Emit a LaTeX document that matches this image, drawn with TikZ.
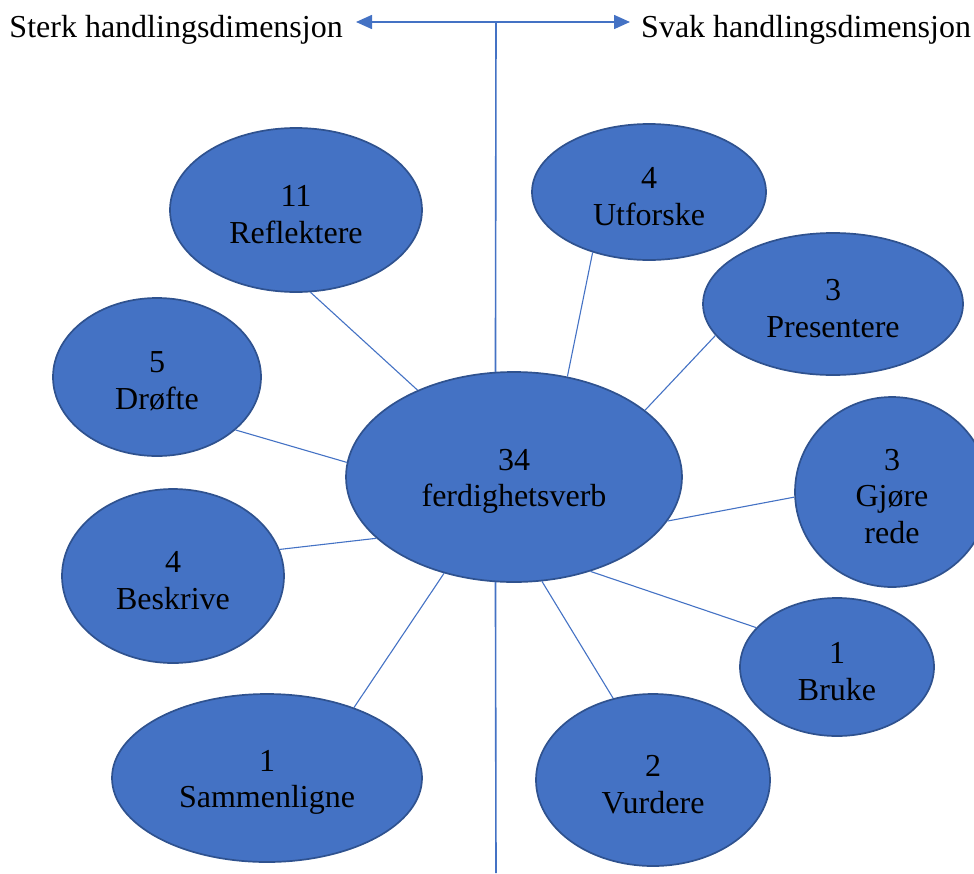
\documentclass[tikz,border=0pt]{standalone}
\usepackage{fontspec}
\setmainfont{Liberation Serif}
\usetikzlibrary{shapes.geometric,arrows.meta}
\definecolor{bubbleFill}{HTML}{4472C4}
\definecolor{bubbleEdge}{HTML}{2F528F}
\definecolor{linkBlue}{HTML}{4472C4}
% a tall invisible strut on the first line lowers the text block a little
\newcommand\bubbletop{\rule{0pt}{30pt}}
\begin{document}
\begin{tikzpicture}[x=1pt,y=-1pt,
  bubble/.style={ellipse, draw=bubbleEdge, fill=bubbleFill, line width=1.7pt,
    inner sep=0pt, align=center, text=black,
    font=\fontsize{32}{36.8}\selectfont},
  link/.style={draw=linkBlue, line width=1.1pt},
  axisline/.style={draw=linkBlue, line width=1.6pt},
  tip/.tip={Triangle[length=16pt,width=14pt]},
  sidelabel/.style={font=\fontsize{32}{36.8}\selectfont, inner sep=0pt}]
\useasboundingbox (0,0) rectangle (974,873);
\clip (0,0) rectangle (974,873);

% central bubble and the verbs around it
\node[bubble, minimum width=336pt, minimum height=210pt] (hub) at (514,477) {\bubbletop 34\\ferdighetsverb};
\node[bubble, minimum width=252pt, minimum height=164pt] (refl) at (296,210) {\bubbletop 11\\Reflektere};
\node[bubble, minimum width=234pt, minimum height=136pt] (utf)  at (649,192) {\bubbletop 4\\Utforske};
\node[bubble, minimum width=260pt, minimum height=142pt] (pres) at (833,304) {\bubbletop 3\\Presentere};
\node[bubble, minimum width=194pt, minimum height=190pt] (gjore) at (892,492) {\bubbletop 3\\Gjøre\\rede};
\node[bubble, minimum width=194pt, minimum height=138pt] (bruke) at (837,667) {\bubbletop 1\\Bruke};
\node[bubble, minimum width=234pt, minimum height=172pt] (vurd) at (653,780) {\bubbletop 2\\Vurdere};
\node[bubble, minimum width=310pt, minimum height=168pt] (samm) at (267,778) {\bubbletop 1\\Sammenligne};
\node[bubble, minimum width=222pt, minimum height=174pt] (besk) at (173,576) {\bubbletop 4\\Beskrive};
\node[bubble, minimum width=208pt, minimum height=158pt] (drof) at (157,377) {\bubbletop 5\\Drøfte};

% spokes
\draw[link] (refl.280)  -- (hub.138);
\draw[link] (utf.227)   -- (hub.62);
\draw[link] (pres.195)  -- (hub.27);
\draw[link] (gjore.183) -- (hub.-16);
\draw[link] (bruke.154) -- (hub.-51);
\draw[link] (vurd.116)  -- (hub.-75);
\draw[link] (samm.39)   -- (hub.234);
\draw[link] (besk.14)   -- (hub.204);
\draw[link] (drof.326)  -- (hub.175);

% action-dimension axis
\coordinate (axtop) at (496,22);
\coordinate (axbot) at (496,873);
\coordinate (arrL) at (356,22);
\coordinate (arrR) at (630,22);
\draw[axisline] (axtop) -- (hub.100);
\draw[axisline] (hub.260) -- (axbot);
\draw[axisline, tip-tip] (arrL) -- (arrR);

\node[sidelabel, anchor=base east] (strong) at (343,37) {Sterk handlingsdimensjon};
\node[sidelabel, anchor=base west] (weak) at (641,37) {Svak handlingsdimensjon};
\end{tikzpicture}
\end{document}
